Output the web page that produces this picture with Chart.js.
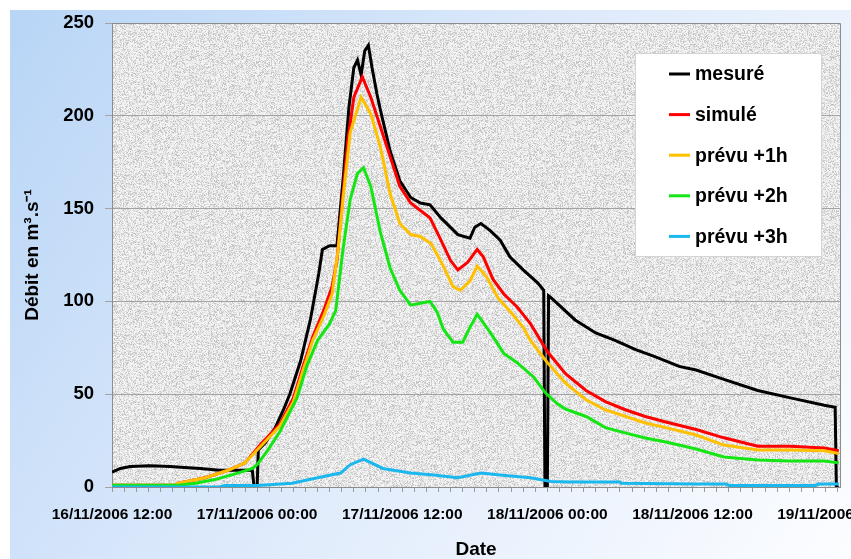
<!DOCTYPE html>
<html>
<head>
<meta charset="utf-8">
<script src="https://cdn.jsdelivr.net/npm/chart.js@4.4.0/dist/chart.umd.min.js"></script>
<style>
html, body { margin: 0; padding: 0; background: #fff; }
</style>
</head>
<body>
<canvas id="chartDebit" width="851" height="559"></canvas>
<script>
// heures comptées depuis le 16/11/2006 12:00
const dateLabels = ['16/11/2006 12:00', '17/11/2006 00:00', '17/11/2006 12:00', '18/11/2006 00:00', '18/11/2006 12:00', '19/11/2006 00:00'];
const yTicks = [0, 50, 100, 150, 200, 250];

const mesureH = [0, 0.7, 1.5, 3.1, 4.8, 6.0, 7.3, 8.9, 11.0, 11.6, 11.75, 12.0, 12.1, 12.7, 13.5, 14.2, 14.7, 15.6, 16.4, 17.1,
    17.4, 18.0, 18.6, 19.1, 19.6, 20.0, 20.3, 20.6, 20.9, 21.2, 21.5, 21.9, 22.2, 23.0, 23.8, 24.7, 25.5, 26.3, 27.2, 28.6,
    29.6, 30.0, 30.5, 30.9, 31.3, 32.1, 32.9, 34.0, 35.2, 35.7, 35.8, 36.0, 36.1, 36.3, 38.3, 40.0, 41.6, 43.3, 45.0, 46.9,
    48.3, 50.6, 53.4, 56.1, 58.9, 59.8, 59.9, 60.1];
const mesureQ = [8, 10, 11, 11.5, 11, 10.5, 10, 9, 9, 9, 0, 0, 20, 24, 32, 42, 50, 68, 90, 115,
    128, 130, 130, 165, 205, 226, 230, 222, 235, 238, 226, 212, 203, 181, 165, 156, 153, 152, 145, 136,
    134, 140, 142, 140, 138, 133, 124, 117, 110, 106, 0, 0, 103, 102, 90, 83, 79, 74, 70, 65,
    63, 58, 52, 48, 44, 43, 0, 0];

const simuleH = [0, 5.2, 5.5, 7.7, 9.6, 11.0, 12.3, 13.9, 15.0, 15.8, 16.6, 17.5, 18.2, 18.6, 19.5, 20.0, 20.7, 21.4, 22.2, 23.0,
    23.8, 24.7, 25.5, 26.3, 27.2, 28.0, 28.6, 29.4, 30.2, 30.7, 31.5, 32.4, 33.5, 34.6, 36.0, 37.5, 39.2, 40.8, 42.5, 44.1,
    45.8, 48.3, 50.6, 53.4, 56.1, 58.9, 60.1];
const simuleQ = [1, 1, 2, 5, 9, 13, 23, 34, 48, 65, 81, 95, 108, 122, 187, 210, 221, 210, 194, 178,
    162, 153, 149, 145, 133, 122, 117, 121, 128, 124, 112, 104, 97, 88, 73, 61, 52, 46, 41.5, 38,
    35, 31, 26.5, 22, 22, 21, 19.5];

const prevu1H = [0, 5.2, 5.5, 7.7, 9.6, 11.0, 12.3, 13.9, 15.0, 15.8, 16.6, 17.5, 18.2, 18.7, 19.1, 19.7, 20.6, 21.4, 22.2, 23.0,
    23.8, 24.7, 25.5, 26.4, 27.4, 28.2, 28.8, 29.6, 30.2, 31.0, 31.9, 33.0, 34.0, 34.6, 36.0, 37.5, 39.2, 40.8, 42.5, 44.1,
    45.8, 48.3, 50.6, 53.4, 56.1, 58.9, 60.1];
const prevu1Q = [1, 1, 2, 5, 9, 13, 22, 33, 46, 63, 79, 92, 104, 128, 155, 191, 210, 201, 183, 158,
    142, 136, 135, 131, 119, 108, 106, 111, 119, 113, 102, 94, 86, 79, 67, 56, 47, 41.5, 38, 34.5,
    32, 28, 22.6, 20, 20, 19.5, 18];

const prevu2H = [0, 5.5, 6.9, 8.5, 10.4, 11.6, 12.0, 12.9, 13.9, 15.3, 16.1, 17.0, 18.0, 18.5, 18.9, 19.1, 19.7, 20.3, 20.8, 21.4,
    22.2, 23.0, 23.8, 24.7, 25.5, 26.3, 26.9, 27.4, 28.2, 29.0, 29.6, 30.2, 31.3, 32.4, 33.5, 34.9, 35.8, 36.8, 37.5, 39.2,
    40.8, 42.5, 44.1, 45.8, 48.3, 50.6, 53.4, 56.1, 58.9, 60.1];
const prevu2Q = [1, 1, 2, 4, 7.5, 10, 12, 20, 30, 48, 65, 79, 88, 95, 117, 128, 155, 169, 172, 162,
    137, 118, 106, 98, 99, 100, 94, 85, 78, 78, 86, 93, 83, 72, 67, 59, 51, 45, 42, 38,
    32, 29, 26.4, 24.2, 20.5, 16.2, 14.5, 14, 14, 13];

const prevu3H = [0, 8.9, 9.3, 12.0, 14.9, 17.0, 18.9, 19.7, 20.8, 22.4, 23.8, 24.7, 26.6, 28.6, 30.5, 32.1, 34.6, 36.3, 37.9, 42.0,
    42.1, 48.3, 50.8, 51.0, 58.2, 58.4, 60.1];
const prevu3Q = [0, 0, 0.8, 0.8, 2, 5, 7.5, 12, 15, 10, 8.5, 7.5, 6.5, 5, 7.5, 6.5, 5, 3, 2.7, 2.7,
    2, 1.6, 1.6, 0.8, 0.8, 1.6, 1.6];

const police = "'Liberation Sans', Arial, sans-serif";

function points(hs, qs) {
    return hs.map((h, i) => ({ x: h, y: qs[i] }));
}

// texture grise (grain fin) du fond de la zone de tracé
function creerTexture() {
    const c = document.createElement('canvas');
    c.width = 160; c.height = 160;
    const g = c.getContext('2d');
    const img = g.createImageData(160, 160);
    let s = 4242;
    for (let i = 0; i < img.data.length; i += 4) {
        s = (s * 1103515245 + 12345) & 0x7fffffff;
        const r = s / 0x7fffffff;
        const v = 246 - Math.floor(r * r * 58);
        img.data[i] = v; img.data[i + 1] = v; img.data[i + 2] = v; img.data[i + 3] = 255;
    }
    g.putImageData(img, 0, 0);
    return c;
}
const texture = creerTexture();

const fondPlugin = {
    id: 'fond',
    beforeDraw(chart) {
        const { ctx, chartArea, width, height } = chart;
        ctx.save();
        ctx.fillStyle = '#fff';
        ctx.fillRect(0, 0, width, height);
        const grad = ctx.createLinearGradient(10, 10, width, height);
        grad.addColorStop(0, '#b8d5f6');
        grad.addColorStop(0.45, '#dce9fb');
        grad.addColorStop(1, '#fcfdff');
        ctx.fillStyle = grad;
        ctx.fillRect(10, 10, width - 10, height - 10);
        ctx.fillStyle = ctx.createPattern(texture, 'repeat');
        ctx.fillRect(chartArea.left, chartArea.top, chartArea.right - chartArea.left, chartArea.bottom - chartArea.top);
        ctx.restore();
    },
    afterDraw(chart) {
        const { ctx, chartArea } = chart;
        ctx.save();
        ctx.strokeStyle = '#8c8c8c';
        ctx.lineWidth = 1;
        ctx.beginPath();
        ctx.moveTo(chartArea.left, chartArea.top + 0.5);
        ctx.lineTo(chartArea.right + 0.5, chartArea.top + 0.5);
        ctx.lineTo(chartArea.right + 0.5, chartArea.bottom);
        ctx.stroke();
        ctx.restore();
    }
};

const legendePlugin = {
    id: 'legende',
    afterDatasetsDraw(chart) {
        const { ctx, chartArea } = chart;
        const x0 = chartArea.right - 205;
        const y0 = chartArea.top + 30;
        ctx.save();
        ctx.fillStyle = '#fff';
        ctx.fillRect(x0, y0, 186, 203);
        ctx.strokeStyle = '#d4d4d4';
        ctx.lineWidth = 1;
        ctx.strokeRect(x0 + 0.5, y0 + 0.5, 186, 203);
        ctx.font = 'bold 19.5px ' + police;
        ctx.textBaseline = 'middle';
        ctx.fillStyle = '#000';
        chart.data.datasets.forEach((ds, i) => {
            const y = y0 + 21 + i * 40.6;
            ctx.strokeStyle = ds.borderColor;
            ctx.lineWidth = 3;
            ctx.beginPath();
            ctx.moveTo(x0 + 34, y);
            ctx.lineTo(x0 + 55, y);
            ctx.stroke();
            ctx.fillText(ds.label, x0 + 60, y + 1);
        });
        ctx.restore();
    }
};

const ctx = document.getElementById('chartDebit');

new Chart(ctx, {
    type: 'line',
    data: {
        datasets: [{
            label: 'mesuré',
            data: points(mesureH, mesureQ),
            borderColor: '#000000',
            order: 5
        }, {
            label: 'simulé',
            data: points(simuleH, simuleQ),
            borderColor: '#ff0000',
            order: 4
        }, {
            label: 'prévu +1h',
            data: points(prevu1H, prevu1Q),
            borderColor: '#ffc000',
            order: 3
        }, {
            label: 'prévu +2h',
            data: points(prevu2H, prevu2Q),
            borderColor: '#14e614',
            order: 2
        }, {
            label: 'prévu +3h',
            data: points(prevu3H, prevu3Q),
            borderColor: '#1ab8ee',
            order: 1
        }]
    },
    options: {
        responsive: false,
        animation: false,
        devicePixelRatio: 1,
        layout: { padding: { top: 23, right: 11, left: 0, bottom: 0 } },
        elements: {
            point: { radius: 0 },
            line: { tension: 0, borderWidth: 3, fill: false }
        },
        plugins: {
            legend: { display: false },
            tooltip: { enabled: false }
        },
        scales: {
            x: {
                type: 'linear',
                min: 0,
                max: 60.2,
                afterBuildTicks(scale) {
                    const t = [];
                    for (let h = 0; h <= 60; h++) t.push({ value: h });
                    scale.ticks = t;
                },
                afterFit(scale) {
                    scale.height = 72;
                    scale.paddingLeft = 0;
                    scale.paddingRight = 0;
                },
                ticks: {
                    autoSkip: false,
                    maxRotation: 0,
                    minRotation: 0,
                    padding: 13,
                    color: '#000',
                    font: { family: police, size: 15.5, weight: 'bold' },
                    callback: (v) => (Number.isInteger(v) && v % 12 === 0) ? dateLabels[v / 12] : ''
                },
                grid: { drawOnChartArea: false, drawTicks: true, tickLength: 5, color: '#9a9a9a' },
                border: { color: '#8c8c8c', width: 1 },
                title: {
                    display: true,
                    text: 'Date',
                    color: '#000',
                    padding: 0,
                    font: { family: police, size: 19, weight: 'bold', lineHeight: 1.0 }
                }
            },
            y: {
                min: 0,
                max: 250,
                afterBuildTicks(scale) {
                    scale.ticks = yTicks.map(v => ({ value: v }));
                },
                afterFit(scale) {
                    scale.width = 112;
                },
                ticks: {
                    padding: 11,
                    color: '#000',
                    font: { family: police, size: 18.5, weight: 'bold' }
                },
                grid: { color: '#a3a3a3', lineWidth: 1, tickLength: 7 },
                border: { color: '#8c8c8c', width: 1 },
                title: {
                    display: true,
                    text: 'Débit en m³.s⁻¹',
                    color: '#000',
                    padding: { top: 21, bottom: 0 },
                    font: { family: police, size: 19, weight: 'bold' }
                }
            }
        }
    },
    plugins: [fondPlugin, legendePlugin]
});
</script>
</body>
</html>
